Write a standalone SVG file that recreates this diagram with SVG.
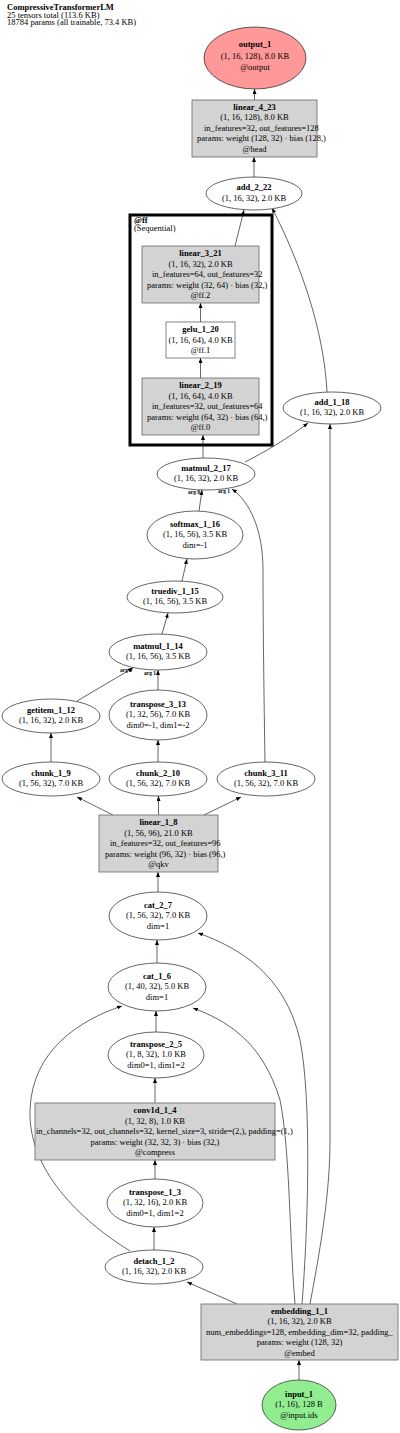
<svg xmlns="http://www.w3.org/2000/svg" width="400" height="1433" viewBox="0 0 400 1433">
<style>
text{font-family:"Liberation Serif","Times New Roman",serif;font-size:8.5px;fill:#000}
.b{font-weight:bold}
.m{text-anchor:middle}
.s{text-anchor:start}
.e{fill:#fff;stroke:#222;stroke-width:0.7}
.r{fill:#d3d3d3;stroke:#666;stroke-width:0.8}
.w{fill:#fff;stroke:#666;stroke-width:0.8}
.edges path{fill:none;stroke:#222;stroke-width:0.7;marker-end:url(#ah)}
.lab{font-size:5.5px;text-anchor:middle;font-weight:bold}
</style>
<defs>
<marker id="ah" markerUnits="userSpaceOnUse" markerWidth="5" markerHeight="4" refX="5" refY="2" orient="auto">
<path d="M0,0 L5,2 L0,4 z" fill="#000"/>
</marker>
</defs>
<rect width="400" height="1433" fill="#fff"/>
<g id="header">
<text x="7" y="10" class="b">CompressiveTransformerLM</text>
<text x="7" y="17.7">25 tensors total (113.6 KB)</text>
<text x="7" y="25.4">18784 params (all trainable, 73.4 KB)</text>
</g>
<g id="cluster_ff">
<rect x="130" y="215" width="142" height="230" fill="none" stroke="#000" stroke-width="3"/>
<text x="134" y="223" class="b">@ff</text>
<text x="134" y="231">(Sequential)</text>
</g>
<g class="edges" id="edges">
<path d="M254.5,100 L254.5,89"/>
<path d="M254,177 L254,157"/>
<path d="M235,246 L244,210"/>
<path d="M327,392 C324,330 300,262 272,208"/>
<path d="M200.5,322 L200.5,303"/>
<path d="M200.5,378 L200.5,358"/>
<path d="M203,458 L203,435"/>
<path d="M245,462 C265,452 290,437 308,423"/>
<path d="M199,511 L202,490"/>
<path d="M265,762 C264,700 263,620 263,570 C263,530 250,502 232,489"/>
<path d="M182,581 L187,559"/>
<path d="M162,634 L168,613"/>
<path d="M77,701 L133,668"/>
<path d="M158,690 L158,670"/>
<path d="M51,762 L51,733"/>
<path d="M158,762 L158,740"/>
<path d="M113,815 L77,797"/>
<path d="M158.5,815 L158.5,796"/>
<path d="M204,815 L241,797"/>
<path d="M158,892 L158,872"/>
<path d="M157,963 L157,940"/>
<path d="M156,1032 L156,1011"/>
<path d="M155,1103 L155,1078"/>
<path d="M155,1179 L155,1160"/>
<path d="M154,1250 L154,1227"/>
<path d="M130,1251 C80,1220 28,1170 30,1110 C32,1050 80,1020 122,1006"/>
<path d="M237,1304 L187,1282"/>
<path d="M295,1304 C289,1230 290,1150 280,1100 C262,1040 225,1020 193,1008"/>
<path d="M302,1304 C308,1230 312,1100 300,1040 C285,975 240,948 198,933"/>
<path d="M310,1304 C322,1240 330,1190 330,1140 L330,424"/>
<path d="M299,1380 L299,1360"/>
<text class="lab" x="194" y="494">arg 0</text>
<text class="lab" x="224" y="493">arg 1</text>
<text class="lab" x="126" y="672">arg 0</text>
<text class="lab" x="150" y="675">arg 1</text>
</g>
<g id="output_1">
<ellipse cx="255" cy="58" rx="51" ry="31" fill="#ff9999" stroke="#222" stroke-width="0.7"/>
<text x="255" y="47" class="m b">output_1</text>
<text x="255" y="58.5" class="m">(1, 16, 128), 8.0 KB</text>
<text x="255" y="70" class="m">@output</text>
</g>
<g id="linear_4_23">
<rect x="192" y="100" width="125" height="57" class="r"/>
<text x="254.5" y="109.5" class="m b">linear_4_23</text>
<text x="254.5" y="120" class="m">(1, 16, 128), 8.0 KB</text>
<text x="204" y="130.5" class="s">in_features=32, out_features=128</text>
<text x="197" y="141" class="s">params: weight (128, 32) · bias (128,)</text>
<text x="254.5" y="151.5" class="m">@head</text>
</g>
<g id="add_2_22">
<ellipse cx="254" cy="193.5" rx="48" ry="16.5" class="e"/>
<text x="254" y="190" class="m b">add_2_22</text>
<text x="254" y="200.5" class="m">(1, 16, 32), 2.0 KB</text>
</g>
<g id="linear_3_21">
<rect x="142" y="246" width="117" height="57" class="r"/>
<text x="200.5" y="256" class="m b">linear_3_21</text>
<text x="200.5" y="266.5" class="m">(1, 16, 32), 2.0 KB</text>
<text x="152" y="277" class="s">in_features=64, out_features=32</text>
<text x="147" y="287.5" class="s">params: weight (32, 64) · bias (32,)</text>
<text x="200.5" y="298" class="m">@ff.2</text>
</g>
<g id="gelu_1_20">
<rect x="166" y="322" width="69" height="36" class="w"/>
<text x="200.5" y="332" class="m b">gelu_1_20</text>
<text x="200.5" y="342.5" class="m">(1, 16, 64), 4.0 KB</text>
<text x="200.5" y="353" class="m">@ff.1</text>
</g>
<g id="linear_2_19">
<rect x="142" y="378" width="117" height="57" class="r"/>
<text x="200.5" y="388" class="m b">linear_2_19</text>
<text x="200.5" y="398.5" class="m">(1, 16, 64), 4.0 KB</text>
<text x="152" y="409" class="s">in_features=32, out_features=64</text>
<text x="147" y="419.5" class="s">params: weight (64, 32) · bias (64,)</text>
<text x="200.5" y="430" class="m">@ff.0</text>
</g>
<g id="add_1_18">
<ellipse cx="332" cy="408" rx="49" ry="16" class="e"/>
<text x="332" y="404.5" class="m b">add_1_18</text>
<text x="332" y="415" class="m">(1, 16, 32), 2.0 KB</text>
</g>
<g id="matmul_2_17">
<ellipse cx="206" cy="474" rx="49" ry="16" class="e"/>
<text x="206" y="470.5" class="m b">matmul_2_17</text>
<text x="206" y="481" class="m">(1, 16, 32), 2.0 KB</text>
</g>
<g id="softmax_1_16">
<ellipse cx="195" cy="535" rx="48" ry="24" class="e"/>
<text x="195" y="526.5" class="m b">softmax_1_16</text>
<text x="195" y="537" class="m">(1, 16, 56), 3.5 KB</text>
<text x="195" y="547.5" class="m">dim=-1</text>
</g>
<g id="truediv_1_15">
<ellipse cx="175" cy="597" rx="48" ry="16" class="e"/>
<text x="175" y="593.5" class="m b">truediv_1_15</text>
<text x="175" y="604" class="m">(1, 16, 56), 3.5 KB</text>
</g>
<g id="matmul_1_14">
<ellipse cx="158" cy="652" rx="49" ry="18" class="e"/>
<text x="158" y="648.5" class="m b">matmul_1_14</text>
<text x="158" y="659" class="m">(1, 16, 56), 3.5 KB</text>
</g>
<g id="getitem_1_12">
<ellipse cx="51" cy="716" rx="49" ry="17" class="e"/>
<text x="51" y="712.5" class="m b">getitem_1_12</text>
<text x="51" y="723" class="m">(1, 16, 32), 2.0 KB</text>
</g>
<g id="transpose_3_13">
<ellipse cx="158" cy="715" rx="49" ry="25" class="e"/>
<text x="158" y="706.5" class="m b">transpose_3_13</text>
<text x="158" y="717" class="m">(1, 32, 56), 7.0 KB</text>
<text x="158" y="727.5" class="m">dim0=-1, dim1=-2</text>
</g>
<g id="chunk_1_9">
<ellipse cx="51" cy="779" rx="49" ry="17" class="e"/>
<text x="51" y="775.5" class="m b">chunk_1_9</text>
<text x="51" y="786" class="m">(1, 56, 32), 7.0 KB</text>
</g>
<g id="chunk_2_10">
<ellipse cx="158" cy="779" rx="49" ry="17" class="e"/>
<text x="158" y="775.5" class="m b">chunk_2_10</text>
<text x="158" y="786" class="m">(1, 56, 32), 7.0 KB</text>
</g>
<g id="chunk_3_11">
<ellipse cx="266" cy="779" rx="49" ry="17" class="e"/>
<text x="266" y="775.5" class="m b">chunk_3_11</text>
<text x="266" y="786" class="m">(1, 56, 32), 7.0 KB</text>
</g>
<g id="linear_1_8">
<rect x="99" y="815" width="119" height="57" class="r"/>
<text x="158.5" y="825" class="m b">linear_1_8</text>
<text x="158.5" y="835.5" class="m">(1, 56, 96), 21.0 KB</text>
<text x="110" y="846" class="s">in_features=32, out_features=96</text>
<text x="105" y="856.5" class="s">params: weight (96, 32) · bias (96,)</text>
<text x="158.5" y="867" class="m">@qkv</text>
</g>
<g id="cat_2_7">
<ellipse cx="158" cy="916" rx="49" ry="24" class="e"/>
<text x="158" y="907.5" class="m b">cat_2_7</text>
<text x="158" y="918" class="m">(1, 56, 32), 7.0 KB</text>
<text x="158" y="928.5" class="m">dim=1</text>
</g>
<g id="cat_1_6">
<ellipse cx="157" cy="987" rx="49" ry="24" class="e"/>
<text x="157" y="978.5" class="m b">cat_1_6</text>
<text x="157" y="989" class="m">(1, 40, 32), 5.0 KB</text>
<text x="157" y="999.5" class="m">dim=1</text>
</g>
<g id="transpose_2_5">
<ellipse cx="156" cy="1055" rx="48" ry="23" class="e"/>
<text x="156" y="1046.5" class="m b">transpose_2_5</text>
<text x="156" y="1057" class="m">(1, 8, 32), 1.0 KB</text>
<text x="156" y="1067.5" class="m">dim0=1, dim1=2</text>
</g>
<g id="conv1d_1_4">
<rect x="35" y="1103" width="240" height="57" class="r"/>
<text x="155" y="1113" class="m b">conv1d_1_4</text>
<text x="155" y="1123.5" class="m">(1, 32, 8), 1.0 KB</text>
<text x="36" y="1134" class="s">in_channels=32, out_channels=32, kernel_size=3, stride=(2,), padding=(1,)</text>
<text x="155" y="1144.5" class="m">params: weight (32, 32, 3) · bias (32,)</text>
<text x="155" y="1155" class="m">@compress</text>
</g>
<g id="transpose_1_3">
<ellipse cx="155" cy="1203" rx="48" ry="24" class="e"/>
<text x="155" y="1194.5" class="m b">transpose_1_3</text>
<text x="155" y="1205" class="m">(1, 32, 16), 2.0 KB</text>
<text x="155" y="1215.5" class="m">dim0=1, dim1=2</text>
</g>
<g id="detach_1_2">
<ellipse cx="154" cy="1267" rx="49" ry="17" class="e"/>
<text x="154" y="1263.5" class="m b">detach_1_2</text>
<text x="154" y="1274" class="m">(1, 16, 32), 2.0 KB</text>
</g>
<g id="embedding_1_1">
<rect x="201" y="1304" width="197" height="56" class="r"/>
<text x="299.5" y="1313.5" class="m b">embedding_1_1</text>
<text x="299.5" y="1324" class="m">(1, 16, 32), 2.0 KB</text>
<text x="206" y="1334.5" class="s">num_embeddings=128, embedding_dim=32, padding_</text>
<text x="299.5" y="1345" class="m">params: weight (128, 32)</text>
<text x="299.5" y="1355.5" class="m">@embed</text>
</g>
<g id="input_1">
<ellipse cx="299" cy="1405" rx="37" ry="25" fill="#90ee90" stroke="#222" stroke-width="0.7"/>
<text x="299" y="1396.5" class="m b">input_1</text>
<text x="299" y="1407" class="m">(1, 16), 128 B</text>
<text x="299" y="1417.5" class="m">@input.ids</text>
</g>
</svg>
